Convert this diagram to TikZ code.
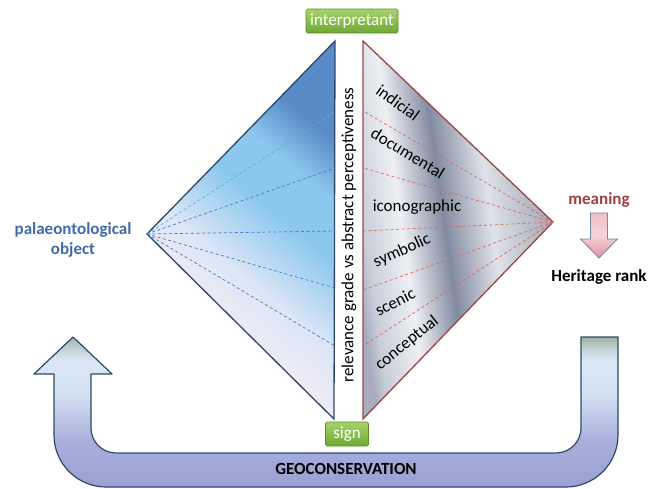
\documentclass[tikz,border=0pt]{standalone}
\usepackage{fontspec}
\setmainfont{Carlito}
\definecolor{uA}{HTML}{9AA0D2}
\definecolor{uB}{HTML}{A8AFDC}
\definecolor{uC}{HTML}{C4CDEA}
\definecolor{uD}{HTML}{D4E1F3}
\definecolor{uE}{HTML}{DAE7F5}
\definecolor{uF}{HTML}{C2D3D6}
\definecolor{uG}{HTML}{9EB4A2}
\definecolor{uBorder}{HTML}{2F4868}
\definecolor{mA}{HTML}{A7ADBE}
\definecolor{mB}{HTML}{C9CDD8}
\definecolor{mC}{HTML}{EEF0F4}
\definecolor{mD}{HTML}{838BA1}
\definecolor{mE}{HTML}{DFE2E8}
\definecolor{mF}{HTML}{BBC0CC}
\definecolor{mG}{HTML}{9AA0B2}
\definecolor{ltTop}{HTML}{5A8BC9}
\definecolor{ltMid}{HTML}{8CC8EE}
\definecolor{ltPale}{HTML}{DCE6F6}
\definecolor{ltBot}{HTML}{FEEFF4}
\definecolor{ltBorder}{HTML}{2E4768}
\definecolor{rtBorder}{HTML}{A04545}
\definecolor{dashBlue}{HTML}{4A78C4}
\definecolor{dashCyan}{HTML}{55B4D8}
\definecolor{dashRed}{HTML}{E06464}
\definecolor{gTop}{HTML}{A6D36A}
\definecolor{gBot}{HTML}{6FA834}
\definecolor{gBorder}{HTML}{5E8E2C}
\definecolor{objBlue}{HTML}{3F6BA9}
\definecolor{meanRed}{HTML}{A2403F}
\definecolor{pTop}{HTML}{F2BFC7}
\definecolor{pMid}{HTML}{F6D3D9}
\definecolor{pBot}{HTML}{DE8F9C}
\definecolor{pBorder}{HTML}{7485A6}
\pgfdeclareverticalshading{uarrow}{100bp}{color(0bp)=(uA); color(25bp)=(uA); color(40bp)=(uB); color(50bp)=(uC); color(56bp)=(uD); color(67bp)=(uE); color(71bp)=(uF); color(75bp)=(uG); color(100bp)=(uG)}
\pgfdeclarehorizontalshading{metal}{100bp}{color(0bp)=(mA); color(25bp)=(mA); color(28bp)=(mB); color(37bp)=(mC); color(47bp)=(mD); color(58bp)=(mE); color(66bp)=(mF); color(75bp)=(mG); color(100bp)=(mG)}
\pgfdeclareverticalshading{ltshade}{100bp}{color(0bp)=(ltBot); color(30bp)=(ltBot); color(44bp)=(ltPale); color(56bp)=(ltMid); color(64bp)=(ltMid); color(72bp)=(ltTop); color(100bp)=(ltTop)}
\begin{document}
\begin{tikzpicture}[x=1pt,y=-1pt,
  gbox/.style={draw=gBorder, line width=0.6pt, rounded corners=1.5pt, top color=gTop, bottom color=gBot, text=white, font=\fontsize{17}{19}\selectfont, inner sep=0pt, minimum height=24pt},
  lab/.style={font=\fontsize{17}{19}\selectfont, text=black, inner sep=0pt},
  bl/.style={font=\fontsize{17}{20}\selectfont\bfseries, inner sep=0pt, align=center},
  dl/.style={dashed, dash pattern=on 3pt off 2.5pt, line width=0.7pt}]
\useasboundingbox (0,0) rectangle (659,488);

% U arrow (geoconservation)
\shadedraw[shading=uarrow, draw=uBorder, line width=1.2pt, line join=round]
 (73,337) -- (112,374) -- (91,374) -- (91,428) .. controls (91,441.8) and (102.2,453) .. (116,453)
 -- (556,453) .. controls (569.8,453) and (581,441.8) .. (581,428) -- (581,337) -- (618,337)
 -- (618,435) .. controls (618,463.7) and (594.7,487) .. (566,487) -- (106,487)
 .. controls (77.3,487) and (54,463.7) .. (54,435) -- (54,374) -- (34,374) -- cycle;
\node[font=\fontsize{17}{19}\selectfont\bfseries, inner sep=0pt] (geo) at (346,469) {GEOCONSERVATION};

% left triangle
\coordinate (lt) at (335,41);
\coordinate (lb) at (334,419);
\coordinate (ll) at (147,234);
\shadedraw[shading=ltshade, shading angle=-40, draw=ltBorder, line width=1.3pt, line join=miter]
  (lt) -- (ll) -- (lb) -- cycle;
\coordinate (l1) at (335,112);
\coordinate (l2) at (335,168);
\coordinate (l3) at (335,231);
\coordinate (l4) at (335,288);
\coordinate (l5) at (335,346);
\draw[dl, dashCyan] (ll) -- (l1);
\foreach \p in {l2,l3,l4,l5} \draw[dl, dashBlue] (ll) -- (\p);

% right triangle
\coordinate (rt) at (363,41);
\coordinate (rb) at (363,419);
\coordinate (rr) at (553,222);
\shadedraw[shading=metal, shading angle=8, draw=rtBorder, line width=1.3pt, line join=miter]
  (rt) -- (rr) -- (rb) -- cycle;
\coordinate (r1) at (363,111);
\coordinate (r2) at (363,168);
\coordinate (r3) at (363,231);
\coordinate (r4) at (363,290);
\coordinate (r5) at (363,346);
\foreach \p in {r1,r2,r3,r4,r5} \draw[dl, dashRed] (rr) -- (\p);

\node[lab, rotate=-36] (ind) at (398,103) {indicial};
\node[lab, rotate=-31] (doc) at (408,153) {documental};
\node[lab] (ico) at (417,207) {iconographic};
\node[lab, rotate=24] (sym) at (402,251) {symbolic};
\node[lab, rotate=27] (sce) at (395,302) {scenic};
\node[lab, rotate=39] (con) at (407,343) {conceptual};

% central axis text
\node[lab, rotate=90] (axis) at (349,235) {relevance grade vs abstract perceptiveness};

% boxes
\node[gbox, minimum width=92pt] (interp) at (352,21) {interpretant};
\node[gbox, minimum width=43pt] (sign) at (347,434) {sign};

% left label
\node[bl, text=objBlue] (obj) at (73,240) {palaeontological\\object};

% right side
\node[bl, text=meanRed] (mean) at (599,200) {meaning};
\shadedraw[top color=pTop, bottom color=pBot, middle color=pMid, draw=pBorder, line width=0.8pt, line join=miter]
  (590.5,213) -- (607.5,213) -- (607.5,239) -- (617.5,239) -- (599,258) -- (580.5,239) -- (590.5,239) -- cycle;
\coordinate (darrow) at (599,258);
\node[bl, text=black] (rank) at (599,277) {Heritage rank};
\end{tikzpicture}
\end{document}
